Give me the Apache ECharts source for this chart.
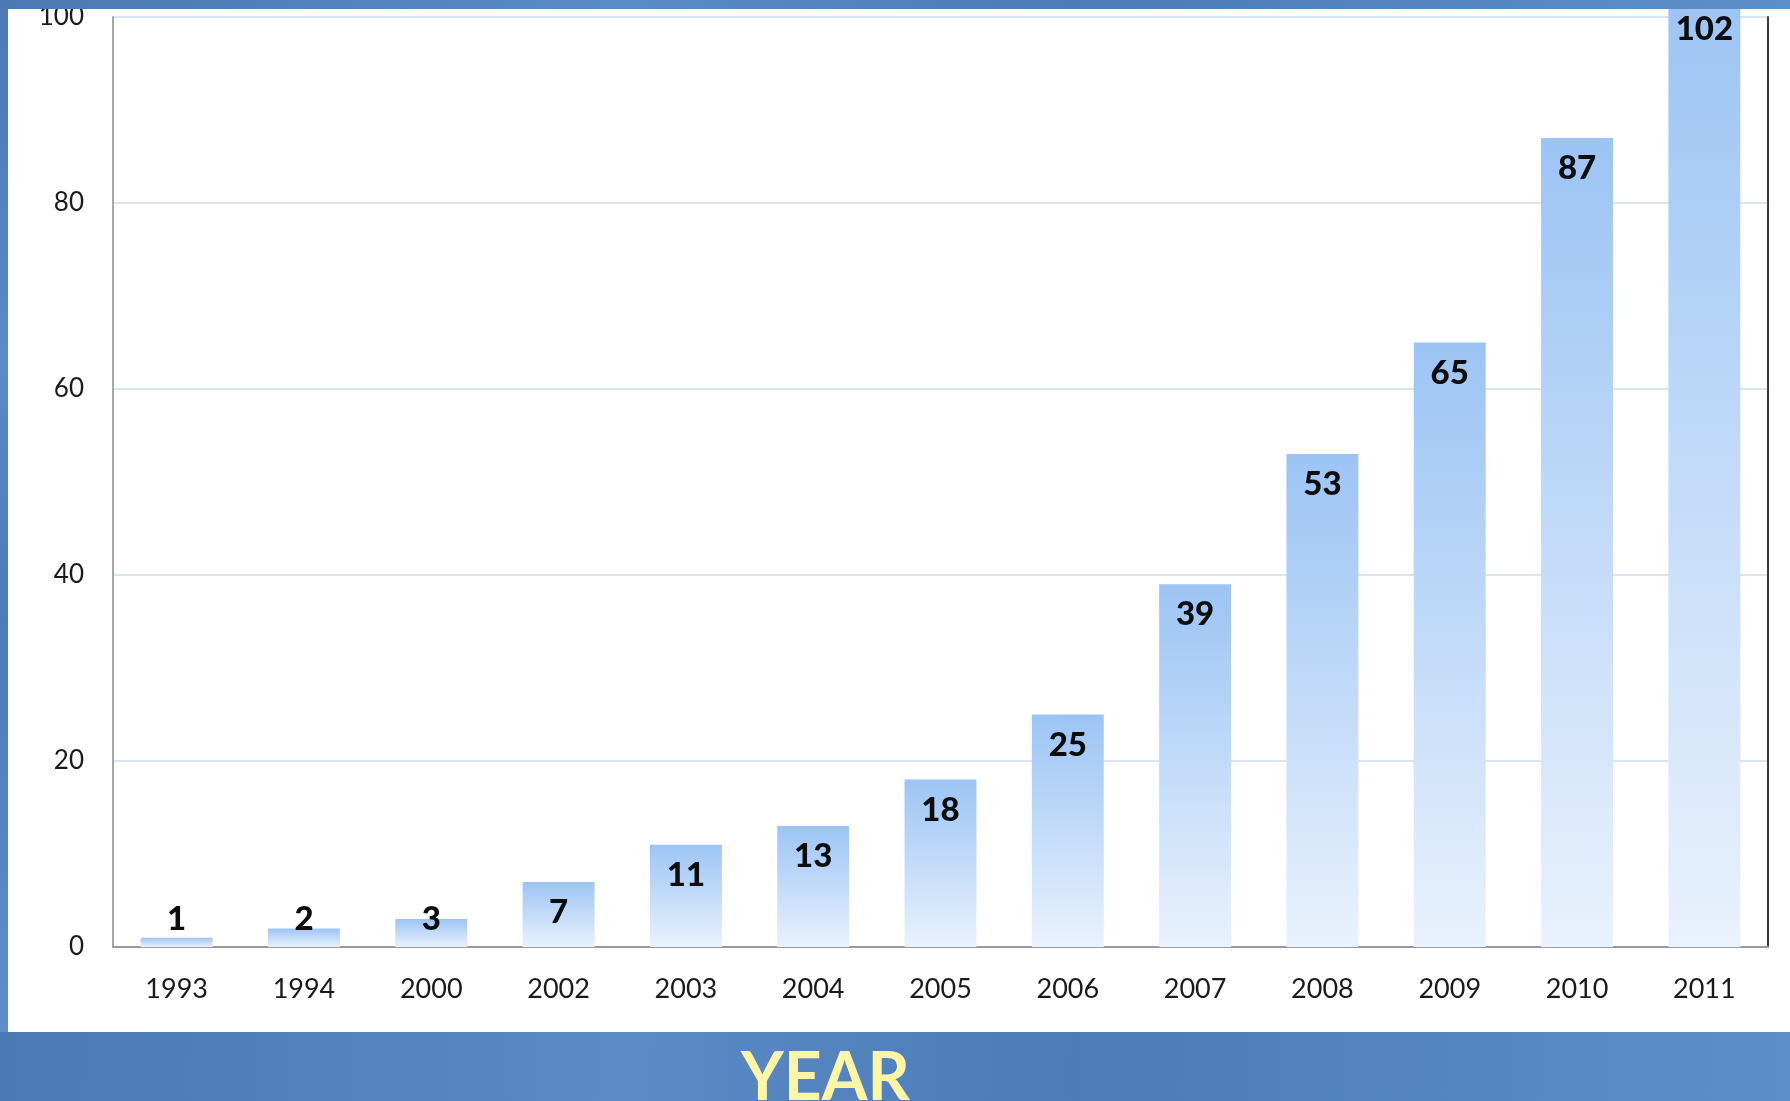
<!DOCTYPE html>
<html>
<head>
<meta charset="utf-8">
<title>Count by year</title>
<script src="https://cdn.jsdelivr.net/npm/echarts@6/dist/echarts.min.js"></script>
<style>
  html, body { margin: 0; padding: 0; background: #5283bd; }
  #chart { width: 1790px; height: 1101px; }
</style>
</head>
<body>
<div id="chart"></div>
<script>
// Yearly counts
const years = ['1993', '1994', '2000', '2002', '2003', '2004', '2005', '2006', '2007', '2008', '2009', '2010', '2011'];
const counts = [1, 2, 3, 7, 11, 13, 18, 25, 39, 53, 65, 87, 102];
const yTicks = [0, 20, 40, 60, 80, 100];
const axisTitle = 'YEAR';

const FONT = 'Lato, "Open Sans", "Noto Sans", sans-serif';
const W = 1790, H = 1101;

// blue mottled frame colour
const frameFill = new echarts.graphic.LinearGradient(0, 0, 1, 1, [
  { offset: 0, color: '#4a79b3' },
  { offset: 0.35, color: '#5a8bc6' },
  { offset: 0.6, color: '#4b7cb7' },
  { offset: 1, color: '#5d8fca' }
]);

const barFill = new echarts.graphic.LinearGradient(0, 0, 0, 1, [
  { offset: 0, color: '#9cc4f4' },
  { offset: 1, color: '#e9f2fd' }
]);

const chart = echarts.init(document.getElementById('chart'), null, { renderer: 'canvas' });

const seriesData = counts.map(v => {
  // bars too short to hold their number get it just above the axis
  const small = v < 5;
  return {
    value: v,
    label: small
      ? { position: 'insideBottom', distance: 11 }
      : { position: 'insideTop', distance: 14 }
  };
});

chart.setOption({
  backgroundColor: '#ffffff',
  animation: false,
  grid: { left: 113, right: 22, top: 17, bottom: 154, containLabel: false },
  xAxis: {
    type: 'category',
    data: years,
    boundaryGap: true,
    axisLine: { show: true, lineStyle: { color: '#9a9a9a', width: 2 } },
    axisTick: { show: false },
    axisLabel: { color: '#1a1a1a', fontFamily: FONT, fontSize: 27, margin: 29 }
  },
  yAxis: [
    {
      type: 'value',
      min: yTicks[0],
      max: yTicks[yTicks.length - 1],
      interval: yTicks[1] - yTicks[0],
      axisLine: { show: true, lineStyle: { color: '#a8a8a8', width: 2 } },
      axisTick: { show: false },
      splitLine: { show: true, lineStyle: { color: '#d9e5f3', width: 2 } },
      axisLabel: { color: '#1a1a1a', fontFamily: FONT, fontSize: 26, margin: 29 }
    },
    {
      type: 'value',
      position: 'right',
      min: yTicks[0],
      max: yTicks[yTicks.length - 1],
      interval: yTicks[1] - yTicks[0],
      axisLine: { show: true, lineStyle: { color: '#3a3a3a', width: 2 } },
      axisTick: { show: false },
      axisLabel: { show: false },
      splitLine: { show: false }
    }
  ],
  series: [{
    type: 'bar',
    data: seriesData,
    clip: false,
    barWidth: '56.5%',
    itemStyle: { color: barFill },
    label: {
      show: true,
      color: '#0d0d0d',
      fontFamily: FONT,
      fontWeight: 900,
      fontSize: 33
    }
  }],
  graphic: [
    // frame: top band, left strip, bottom band
    { type: 'rect', z: 100, shape: { x: 0, y: 0, width: W, height: 9 }, style: { fill: frameFill } },
    { type: 'rect', z: 100, shape: { x: 0, y: 0, width: 8, height: 1032 }, style: { fill: frameFill } },
    { type: 'rect', z: 100, shape: { x: 0, y: 1032, width: W, height: H - 1032 }, style: { fill: frameFill } },
    {
      type: 'text', z: 101,
      left: 741, top: 1046,
      style: {
        text: axisTitle,
        fill: '#fff6a3',
        font: 'bold 66px ' + FONT
      }
    }
  ]
});
</script>
</body>
</html>
